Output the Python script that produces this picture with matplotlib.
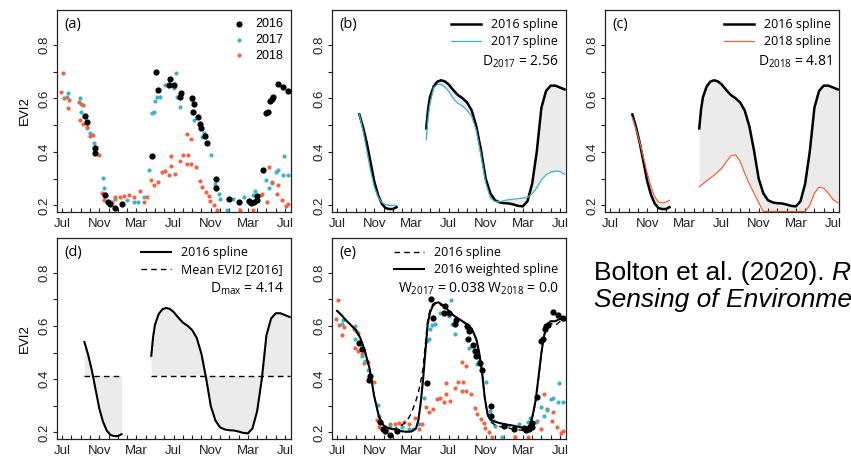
import matplotlib
matplotlib.use('Agg')
import matplotlib.pyplot as plt

plt.rcParams['font.family'] = ['Liberation Sans', 'DejaVu Sans']
plt.rcParams['mathtext.fontset'] = 'custom'
plt.rcParams['mathtext.rm'] = 'Open Sans'
plt.rcParams['mathtext.it'] = 'Open Sans:italic'

# months since Jul 2016
pts16_x = [2.41, 2.73, 3.56, 3.49, 4.64, 4.93, 5.11, 5.65, 6.44, 9.68, 10.14, 10.29, 11.47, 11.65,
           12.01, 12.73, 12.84, 14.03, 14.1, 14.24, 14.68, 14.89, 15.0, 15.36, 15.61, 16.55, 16.55,
           17.95, 19.06, 20.1, 20.36, 20.65, 20.94, 21.0, 21.58, 21.98, 22.2, 22.37, 22.55, 22.73,
           23.24, 23.81, 24.32]
pts16_y = [0.535, 0.513, 0.413, 0.396, 0.24, 0.213, 0.204, 0.19, 0.205, 0.385, 0.70, 0.631, 0.65, 0.674,
           0.65, 0.606, 0.621, 0.60, 0.55, 0.581, 0.529, 0.506, 0.489, 0.459, 0.434, 0.30, 0.263,
           0.223, 0.211, 0.215, 0.209, 0.213, 0.221, 0.234, 0.334, 0.544, 0.55, 0.59, 0.599, 0.604,
           0.654, 0.641, 0.629]

pts17_x = [0.5, 0.68, 1.94, 2.01, 1.98, 2.73, 3.02, 3.38, 4.39, 4.46, 5.72, 6.98, 7.7, 8.13, 8.78,
           9.39, 9.68, 9.93, 10.04, 10.22, 10.5, 11.12, 12.09, 12.27, 12.37, 12.73, 13.99, 14.24,
           15.07, 15.25, 16.08, 16.51, 16.94, 16.98, 17.77, 18.38, 19.57, 20.58, 20.76, 21.37,
           21.91, 22.27, 22.63, 22.99, 23.27, 23.74, 23.88, 24.32]
pts17_y = [0.606, 0.621, 0.60, 0.581, 0.55, 0.488, 0.469, 0.434, 0.303, 0.263, 0.223, 0.219, 0.213,
           0.213, 0.231, 0.331, 0.544, 0.55, 0.59, 0.604, 0.606, 0.65, 0.638, 0.696, 0.606, 0.569,
           0.594, 0.519, 0.456, 0.469, 0.388, 0.281, 0.244, 0.225, 0.184, 0.225, 0.231, 0.238,
           0.254, 0.238, 0.294, 0.263, 0.284, 0.325, 0.331, 0.313, 0.385, 0.315]

pts18_x = [0.07, -0.11, 0.22, 0.58, 0.76, 1.87, 1.94, 2.23, 2.23, 2.73, 2.95, 3.31, 3.96, 4.28, 4.53,
           5.36, 5.72, 6.26, 6.62, 7.16, 7.77, 8.42, 8.78, 9.14, 9.57, 9.93, 10.29, 10.76, 11.12,
           11.47, 11.73, 12.19, 11.73, 12.73, 13.02, 13.45, 13.56, 13.45, 13.92, 13.92, 14.46,
           14.82, 15.07, 15.5, 15.79, 15.9, 16.33, 16.69, 19.14, 20.54, 21.55, 22.01, 22.3, 22.63,
           23.09, 23.27, 23.71, 24.14, 24.32]
pts18_y = [0.696, 0.625, 0.603, 0.566, 0.596, 0.588, 0.519, 0.575, 0.506, 0.494, 0.459, 0.463, 0.388,
           0.246, 0.221, 0.213, 0.231, 0.231, 0.234, 0.238, 0.231, 0.253, 0.213, 0.231, 0.294, 0.275,
           0.288, 0.325, 0.329, 0.313, 0.346, 0.319, 0.384, 0.365, 0.39, 0.356, 0.39, 0.466, 0.45,
           0.356, 0.344, 0.29, 0.269, 0.25, 0.234, 0.216, 0.20, 0.181, 0.181, 0.184, 0.244, 0.213,
           0.344, 0.288, 0.244, 0.275, 0.219, 0.198, 0.206]

# 2016 / 2017 / 2018 splines, first segment
seg1_x = [2.4, 2.8, 3.2, 3.6, 4.0, 4.4, 4.8, 5.2, 5.6, 6.0, 6.4]
spl16_a = [0.54, 0.492, 0.433, 0.362, 0.29, 0.24, 0.207, 0.19, 0.186, 0.186, 0.193]
spl17_a = [0.54, 0.478, 0.405, 0.33, 0.27, 0.232, 0.211, 0.203, 0.2, 0.2, 0.2]
spl18_a = [0.528, 0.484, 0.435, 0.378, 0.32, 0.27, 0.232, 0.213, 0.209, 0.212, 0.219]

# second segment
seg2_x = [9.6, 9.8, 10.0, 10.4, 10.8, 11.2, 11.6, 12.0, 12.5, 13.0, 13.5, 14.0, 14.5, 15.0, 15.5,
          16.0, 16.5, 17.0, 17.5, 18.0, 18.5, 19.0, 19.5, 20.0, 20.5, 21.0, 21.5, 22.0, 22.5, 23.0,
          23.5, 24.0, 24.5]
spl16_b = [0.488, 0.56, 0.605, 0.645, 0.663, 0.668, 0.664, 0.653, 0.632, 0.613, 0.601, 0.585, 0.555,
           0.495, 0.405, 0.30, 0.245, 0.219, 0.211, 0.208, 0.207, 0.203, 0.198, 0.196, 0.215, 0.28,
           0.40, 0.565, 0.628, 0.648, 0.648, 0.641, 0.634]
spl17_b = [0.446, 0.53, 0.58, 0.64, 0.652, 0.653, 0.643, 0.628, 0.60, 0.582, 0.572, 0.556, 0.532,
           0.48, 0.385, 0.285, 0.228, 0.214, 0.213, 0.218, 0.221, 0.223, 0.225, 0.227, 0.229, 0.243,
           0.265, 0.295, 0.314, 0.324, 0.328, 0.327, 0.316]
spl18_b = [0.269, 0.275, 0.28, 0.292, 0.302, 0.313, 0.325, 0.338, 0.362, 0.385, 0.389, 0.365, 0.32,
           0.28, 0.245, 0.21, 0.177, 0.177, 0.177, 0.177, 0.177, 0.177, 0.177, 0.177, 0.177, 0.177,
           0.20, 0.245, 0.268, 0.264, 0.245, 0.222, 0.21]
mean16 = 0.413

# panel (e) splines
w_x = [0, 0.5, 1.0, 1.5, 2.0, 2.5, 3.0, 3.5, 4.0, 4.5, 5.0, 5.5, 6.0, 6.5, 7.0, 7.5, 8.0, 8.5, 8.75,
       9.0, 9.25, 9.5, 9.75, 10.0, 10.3, 10.6, 10.9, 11.2, 11.6, 12.0, 12.5, 13.0, 13.5, 14.0, 14.5,
       15.0, 15.3, 15.6, 15.9, 16.2, 16.5, 17.0, 17.5, 18.0, 18.5, 19.0, 19.5, 20.0, 20.5, 20.8,
       21.1, 21.4, 21.7, 22.0, 22.3, 22.6, 23.0, 23.5, 24.0, 24.5]
weighted = [0.657, 0.64, 0.62, 0.603, 0.586, 0.555, 0.505, 0.44, 0.335, 0.26, 0.226, 0.216, 0.212,
            0.208, 0.204, 0.202, 0.203, 0.215, 0.245, 0.31, 0.395, 0.50, 0.605, 0.65, 0.675, 0.686,
            0.689, 0.683, 0.673, 0.658, 0.641, 0.629, 0.618, 0.606, 0.59, 0.55, 0.50, 0.43, 0.33,
            0.27, 0.247, 0.24, 0.235, 0.231, 0.228, 0.225, 0.221, 0.217, 0.218, 0.23, 0.27, 0.325,
            0.41, 0.50, 0.565, 0.606, 0.618, 0.618, 0.627, 0.621]
unweighted = [0.657, 0.64, 0.62, 0.603, 0.586, 0.555, 0.505, 0.44, 0.335, 0.26, 0.226, 0.216, 0.212,
              0.218, 0.228, 0.242, 0.272, 0.32, 0.35, 0.39, 0.44, 0.53, 0.62, 0.66, 0.682, 0.688,
              0.684, 0.678, 0.67, 0.656, 0.64, 0.628, 0.617, 0.605, 0.588, 0.548, 0.50, 0.43, 0.33,
              0.265, 0.24, 0.228, 0.222, 0.218, 0.215, 0.213, 0.21, 0.207, 0.21, 0.225, 0.265, 0.32,
              0.405, 0.495, 0.56, 0.603, 0.61, 0.602, 0.617, 0.624]

months = list(range(25))
month_names = {0: 'Jul', 4: 'Nov', 8: 'Mar'}

C17 = '#3ab5c8'
C18 = '#f4623f'
FILL = '#ebebeb'
EDGE = '#222222'
S_BIG = 20
S_SMALL = 9


def setup_axes(ax, label, ylab=False):
    ax.set_xlim(-0.55, 24.65)
    ax.set_ylim(0.175, 0.931)
    ax.set_xticks(months)
    ax.set_xticklabels([month_names.get(m % 12, '') for m in months])
    ax.set_yticks([0.2, 0.3, 0.4, 0.5, 0.6, 0.7, 0.8])
    ax.set_yticklabels(['0.2', '', '0.4', '', '0.6', '', '0.8'])
    ax.tick_params(axis='x', direction='in', length=3, width=0.8, pad=4, labelsize=9.5,
                   colors=EDGE)
    ax.tick_params(axis='y', direction='out', length=3, width=0.8, pad=2, labelsize=9.5,
                   colors=EDGE)
    plt.setp(ax.get_yticklabels(), rotation=90, va='center')
    for s in ax.spines.values():
        s.set_color(EDGE)
        s.set_linewidth(0.9)
    ax.text(0.031, 0.93, label, transform=ax.transAxes, fontsize=10.5, family='Open Sans',
            va='center', ha='left')
    if ylab:
        ax.set_ylabel('EVI2', fontsize=9.5, labelpad=5)


def scatter_all(ax):
    ax.scatter(pts18_x, pts18_y, s=S_SMALL, color=C18, lw=0, zorder=2)
    ax.scatter(pts17_x, pts17_y, s=S_SMALL, color=C17, lw=0, zorder=2)
    ax.scatter(pts16_x, pts16_y, s=S_BIG, color='black', lw=0, zorder=3)


fig = plt.figure(figsize=(8.51, 4.57), dpi=100)
ax_a = fig.add_axes([0.0670, 0.5361, 0.2750, 0.4420])
ax_b = fig.add_axes([0.3901, 0.5361, 0.2750, 0.4420])
ax_c = fig.add_axes([0.7109, 0.5361, 0.2750, 0.4420])
ax_d = fig.add_axes([0.0670, 0.0394, 0.2750, 0.4398])
ax_e = fig.add_axes([0.3901, 0.0394, 0.2750, 0.4398])

leg_kw = dict(loc='upper right', frameon=False, borderaxespad=0.25, labelspacing=0.3,
              handletextpad=0.8)

# (a) raw observations
setup_axes(ax_a, '(a)', ylab=True)
ax_a.scatter(pts16_x, pts16_y, s=S_BIG, color='black', lw=0, label='2016', zorder=3)
ax_a.scatter(pts17_x, pts17_y, s=S_SMALL, color=C17, lw=0, label='2017', zorder=2)
ax_a.scatter(pts18_x, pts18_y, s=S_SMALL, color=C18, lw=0, label='2018', zorder=2)
ax_a.legend(fontsize=9, handlelength=1.0, markerscale=1.0, **leg_kw)

# (b) 2016 vs 2017 spline
setup_axes(ax_b, '(b)')
ax_b.fill_between(seg1_x, spl16_a, spl17_a, color=FILL, lw=0)
ax_b.fill_between(seg2_x, spl16_b, spl17_b, color=FILL, lw=0)
ax_b.plot(seg1_x, spl16_a, color='black', lw=1.8, label='2016 spline')
ax_b.plot(seg2_x, spl16_b, color='black', lw=1.8)
ax_b.plot(seg1_x, spl17_a, color=C17, lw=0.9, label='2017 spline')
ax_b.plot(seg2_x, spl17_b, color=C17, lw=0.9)
ax_b.legend(prop={'family': 'Open Sans', 'size': 9}, handlelength=2.4, **leg_kw)
ax_b.text(0.97, 0.745, r'D$_{2017}$ = 2.56', transform=ax_b.transAxes, ha='right', va='center',
          fontsize=10, family='Open Sans')

# (c) 2016 vs 2018 spline
setup_axes(ax_c, '(c)')
ax_c.fill_between(seg1_x, spl16_a, spl18_a, color=FILL, lw=0)
ax_c.fill_between(seg2_x, spl16_b, spl18_b, color=FILL, lw=0)
ax_c.plot(seg1_x, spl16_a, color='black', lw=1.8, label='2016 spline')
ax_c.plot(seg2_x, spl16_b, color='black', lw=1.8)
ax_c.plot(seg1_x, spl18_a, color=C18, lw=0.9, label='2018 spline')
ax_c.plot(seg2_x, spl18_b, color=C18, lw=0.9)
ax_c.legend(prop={'family': 'Open Sans', 'size': 9}, handlelength=2.4, **leg_kw)
ax_c.text(0.97, 0.745, r'D$_{2018}$ = 4.81', transform=ax_c.transAxes, ha='right', va='center',
          fontsize=10, family='Open Sans')

# (d) 2016 spline vs its mean
setup_axes(ax_d, '(d)', ylab=True)
ax_d.fill_between(seg1_x, spl16_a, mean16, color=FILL, lw=0)
ax_d.fill_between(seg2_x, spl16_b, mean16, color=FILL, lw=0)
ax_d.plot(seg1_x, spl16_a, color='black', lw=1.5, label='2016 spline')
ax_d.plot(seg2_x, spl16_b, color='black', lw=1.5)
ax_d.plot([seg1_x[0], seg1_x[-1]], [mean16, mean16], color='black', lw=1.0, ls=(0, (4, 3)),
          label='Mean EVI2 [2016]')
ax_d.plot([seg2_x[0], seg2_x[-1]], [mean16, mean16], color='black', lw=1.0, ls=(0, (4, 3)))
ax_d.legend(prop={'family': 'Open Sans', 'size': 9}, handlelength=2.4, **leg_kw)
ax_d.text(0.97, 0.745, r'D$_{\max}$ = 4.14', transform=ax_d.transAxes, ha='right', va='center',
          fontsize=10, family='Open Sans')

# (e) weighted spline with all observations
setup_axes(ax_e, '(e)')
scatter_all(ax_e)
ax_e.plot(w_x, unweighted, color='black', lw=1.0, ls=(0, (4, 3)), label='2016 spline', zorder=4)
ax_e.plot(w_x, weighted, color='black', lw=1.5, label='2016 weighted spline', zorder=4)
ax_e.legend(prop={'family': 'Open Sans', 'size': 9}, handlelength=2.4, **leg_kw)
ax_e.text(0.97, 0.745, r'W$_{2017}$ = 0.038 W$_{2018}$ = 0.0', transform=ax_e.transAxes,
          ha='right', va='center', fontsize=10, family='Open Sans')

# citation (runs off the right edge, as in the reference)
fig.text(594 / 851, 0.3873, 'Bolton et al. (2020).', fontsize=19, va='baseline', ha='left')
fig.text(831 / 851, 0.3873, 'Remote', fontsize=19, style='italic', va='baseline', ha='left')
fig.text(594 / 851, 0.3289, 'Sensing of Environment', fontsize=19, style='italic',
         va='baseline', ha='left')

fig.savefig('out.png', dpi=100)
